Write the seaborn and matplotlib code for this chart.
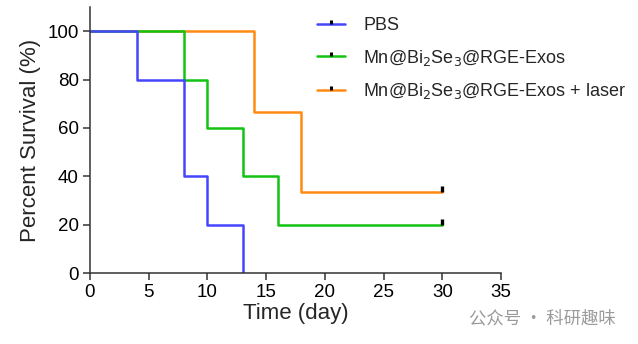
import numpy as np
import pandas as pd
import matplotlib
matplotlib.use("Agg")
import matplotlib.pyplot as plt
from matplotlib.path import Path
from matplotlib.lines import Line2D
import seaborn as sns

# ---- data ----
groups = ["PBS", "Mn@Bi$_2$Se$_3$@RGE-Exos", "Mn@Bi$_2$Se$_3$@RGE-Exos + laser"]
pbs_t = [0, 4, 8, 10, 13]
pbs_s = [100, 80, 40, 20, 0]
exo_t = [0, 8, 10, 13, 16, 30]
exo_s = [100, 80, 60, 40, 20, 20]
las_t = [0, 14, 18, 30]
las_s = [100, 66.67, 33.33, 33.33]
censor_t = [30, 30]
censor_s = [20, 33.33]
colors = ["#4545ff", "#12c312", "#ff8a12"]

df = pd.concat([
    pd.DataFrame({"t": pbs_t, "s": pbs_s, "g": groups[0]}),
    pd.DataFrame({"t": exo_t, "s": exo_s, "g": groups[1]}),
    pd.DataFrame({"t": las_t, "s": las_s, "g": groups[2]}),
], ignore_index=True)

sns.set_style("ticks")
plt.rcParams["font.family"] = ["Liberation Sans", "DejaVu Sans"]

fig = plt.figure(figsize=(6.38, 3.44), dpi=100)
ax = fig.add_axes([90/638, 1-273/344, (501-90)/638, (273-7)/344])

pal = dict(zip(groups, colors))
sns.lineplot(data=df, x="t", y="s", hue="g", hue_order=groups[::-1], palette=pal,
             estimator=None, sort=True, drawstyle="steps-post", linewidth=1.8,
             legend=False, ax=ax)

up_tick = Path([(0, 0), (0, 1)], [Path.MOVETO, Path.LINETO])
ax.plot(censor_t, censor_s, linestyle="none", marker=up_tick, markersize=8,
        markeredgewidth=2.4, color="black", zorder=5)

ax.set_xlim(0, 35)
ax.set_ylim(0, 110)
ax.set_xticks(range(0, 36, 5))
ax.set_yticks(range(0, 101, 20))
for side in ["top", "right"]:
    ax.spines[side].set_visible(False)
for side in ["left", "bottom"]:
    ax.spines[side].set_color("#333333")
    ax.spines[side].set_linewidth(1.1)
ax.tick_params(axis="both", length=5, width=1.1, color="#333333",
               labelsize=13.5, labelcolor="black", pad=3)
ax.set_xlabel("Time (day)", fontsize=16, labelpad=1)
ax.set_ylabel("Percent Survival (%)", fontsize=16, labelpad=5)

handles = [Line2D([0], [0], color=c, linewidth=1.8, marker=up_tick, markersize=6,
                  markeredgewidth=2.2, markeredgecolor="black", markerfacecolor="black")
           for c in colors]
leg = ax.legend(handles, groups, loc="upper left", bbox_to_anchor=(317/638, 1-17/344),
                bbox_transform=fig.transFigure, frameon=False, fontsize=13,
                handlelength=1.55, handletextpad=1.0, labelspacing=0.76, numpoints=1,
                borderaxespad=0, borderpad=0)

fig.text(616/638, 1-318/344, "公众号 · 科研趣味", ha="right", va="center",
         fontsize=12.5, color="#9a9a9a", family=["Noto Sans CJK SC", "DejaVu Sans"])

fig.savefig("out.png", dpi=100)
